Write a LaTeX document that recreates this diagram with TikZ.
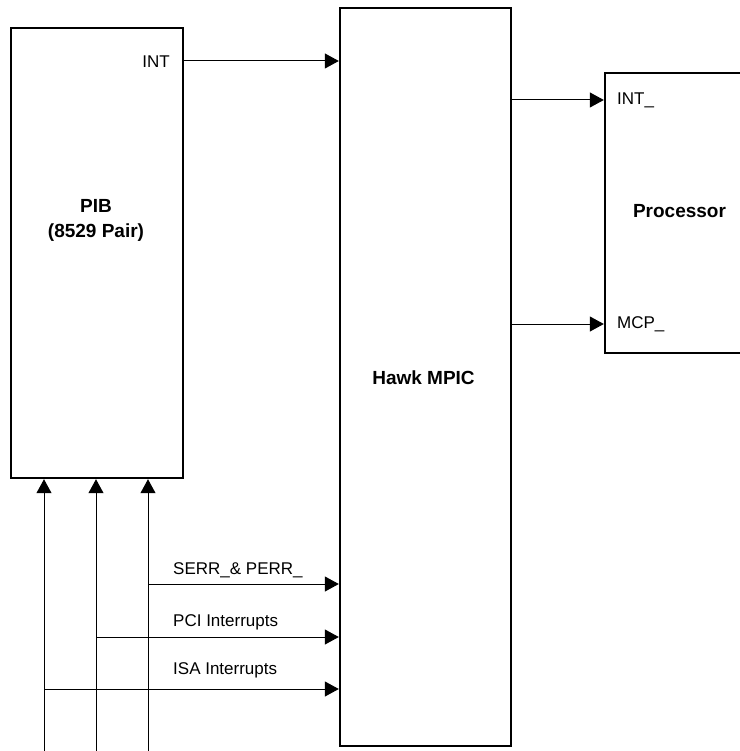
\documentclass[tikz,border=0pt]{standalone}
\usepackage{fontspec}
\setmainfont{Liberation Sans}
\usetikzlibrary{positioning,arrows.meta}

\begin{document}
\begin{tikzpicture}[x=1pt,y=-1pt]
	\tikzstyle{every node}+=[inner sep=0pt, font=\fontsize{17}{25}\selectfont]
	\tikzstyle{blk}=[draw, line width=2.4pt, rectangle]
	\tikzstyle{title}=[font=\fontsize{19}{25}\selectfont\bfseries, align=center]
	\tikzstyle{sig}=[line width=1pt, -{Triangle[length=14pt,width=15pt]}]
	\useasboundingbox (0,0) rectangle (739,751);
	% boxes
	\node[blk, minimum width=172pt, minimum height=450pt] (pib) at (97,253) {};
	\node[title] (piblbl) at (96,220) {PIB\\(8529 Pair)};
	\node[blk, minimum width=171pt, minimum height=738pt] (hawk) at (425.5,377) {};
	\node[title] (hawklbl) at (423.5,378) {Hawk MPIC};
	\node[blk, minimum width=144pt, minimum height=280pt] (proc) at (677,213) {};
	\node[title] (proclbl) at (679.5,211) {Processor};
	% pin labels
	\node[anchor=east] (intlbl) at (170,62) {INT};
	\node[anchor=west] (intplbl) at (617,100) {INT\textunderscore};
	\node[anchor=west] (mcplbl) at (617,324) {MCP\textunderscore};
	\node[anchor=west] (errlbl) at (173,570) {SERR\textunderscore\& PERR\textunderscore};
	\node[anchor=west] (pcilbl) at (173,622) {PCI Interrupts};
	\node[anchor=west] (isalbl) at (173,670) {ISA Interrupts};
	% arrows
	\coordinate (introw) at (0,61);
	\coordinate (intprow) at (0,100);
	\coordinate (mcprow) at (0,324);
	\draw[sig] (pib.east |- introw) -- (hawk.west |- introw);
	\draw[sig] (hawk.east |- intprow) -- (proc.west |- intprow);
	\draw[sig] (hawk.east |- mcprow) -- (proc.west |- mcprow);
	% interrupt lines from below
	\coordinate (isain) at (44,760);
	\coordinate (pciin) at (96,760);
	\coordinate (errin) at (148,760);
	\coordinate (isarow) at (0,689);
	\coordinate (pcirow) at (0,637);
	\coordinate (errrow) at (0,584);
	\draw[sig] (isain) -- (isain |- pib.south);
	\draw[sig] (pciin) -- (pciin |- pib.south);
	\draw[sig] (errin) -- (errin |- pib.south);
	\draw[sig] (isain |- isarow) -- (hawk.west |- isarow);
	\draw[sig] (pciin |- pcirow) -- (hawk.west |- pcirow);
	\draw[sig] (errin |- errrow) -- (hawk.west |- errrow);
\end{tikzpicture}
\end{document}
